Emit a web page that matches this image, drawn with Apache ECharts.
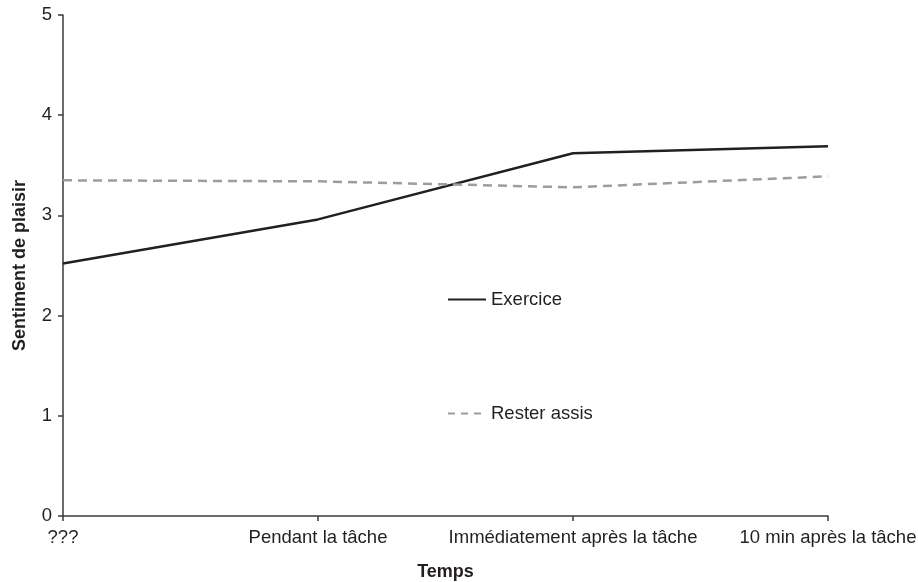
<!DOCTYPE html>
<html>
<head>
<meta charset="utf-8">
<script src="https://cdn.jsdelivr.net/npm/echarts@6/dist/echarts.min.js"></script>
<style>html,body{margin:0;padding:0;background:#fff}#c{width:918px;height:582px}</style>
</head>
<body>
<div id="c"></div>
<script>
var categories = ['???', 'Pendant la tâche', 'Immédiatement après la tâche', '10 min après la tâche'];
var exercice = [2.52, 2.96, 3.62, 3.69];
var resterAssis = [3.35, 3.34, 3.28, 3.39];
var yTicks = [0, 1, 2, 3, 4, 5];

var FONT = 'Liberation Sans, Arial, Helvetica, sans-serif';
var chart = echarts.init(document.getElementById('c'));
chart.setOption({
  animation: false,
  backgroundColor: '#fff',
  grid: { left: 63, right: 90, top: 15, bottom: 66, containLabel: false, outerBoundsMode: 'none' },
  legend: [
    { data: ['Exercice'], orient: 'vertical', left: 442, top: 285, itemWidth: 38, itemHeight: 14, itemGap: 6,
      itemStyle: { opacity: 0 },
      textStyle: { fontFamily: FONT, fontSize: 18.5, color: '#231f20' } },
    { data: ['Rester assis'], orient: 'vertical', left: 442, top: 399, itemWidth: 38, itemHeight: 14, itemGap: 6,
      itemStyle: { opacity: 0 },
      lineStyle: { type: [7, 6] },
      textStyle: { fontFamily: FONT, fontSize: 18.5, color: '#231f20' } }
  ],
  xAxis: {
    type: 'category',
    data: categories,
    boundaryGap: false,
    name: 'Temps',
    nameLocation: 'middle',
    nameGap: 47,
    nameTextStyle: { fontFamily: FONT, fontSize: 18, fontWeight: 'bold', color: '#231f20' },
    axisLine: { lineStyle: { color: '#3a3a3a', width: 1.5 } },
    axisTick: { show: true, alignWithLabel: true, length: 5, lineStyle: { color: '#3a3a3a', width: 1.5 } },
    axisLabel: { fontFamily: FONT, fontSize: 18.5, color: '#231f20', margin: 12, interval: 0 },
    splitLine: { show: false }
  },
  yAxis: {
    type: 'value',
    min: yTicks[0],
    max: yTicks[yTicks.length - 1],
    interval: 1,
    name: 'Sentiment de plaisir',
    nameLocation: 'middle',
    nameGap: 34,
    nameTextStyle: { fontFamily: FONT, fontSize: 18, fontWeight: 'bold', color: '#231f20' },
    axisLine: { show: true, lineStyle: { color: '#3a3a3a', width: 1.5 } },
    axisTick: { show: true, length: 5, lineStyle: { color: '#3a3a3a', width: 1.5 } },
    axisLabel: { fontFamily: FONT, fontSize: 18.5, color: '#231f20', margin: 11 },
    splitLine: { show: false }
  },
  series: [
    { name: 'Exercice', type: 'line', data: exercice, symbol: 'none',
      lineStyle: { color: '#231f20', width: 2.5 }, itemStyle: { color: '#231f20' } },
    { name: 'Rester assis', type: 'line', data: resterAssis, symbol: 'none',
      lineStyle: { color: '#9d9d9d', width: 2.5, type: [9, 6] }, itemStyle: { color: '#9d9d9d' } }
  ]
});
</script>
</body>
</html>
